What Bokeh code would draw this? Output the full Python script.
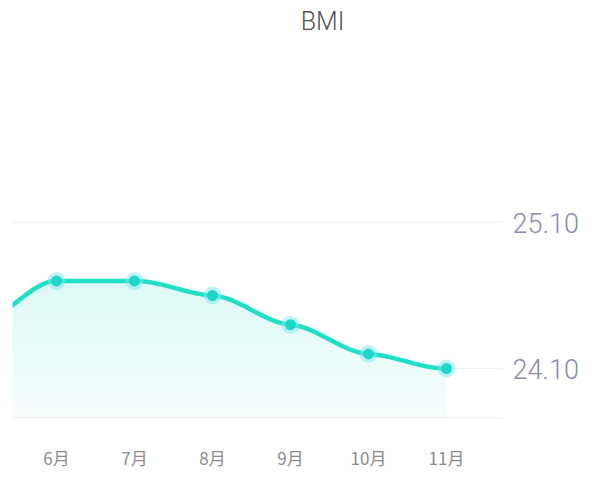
import numpy as np
from bokeh.plotting import figure
from bokeh.models import Range1d, FixedTicker, LinearAxis, Label, ColumnDataSource, NumeralTickFormatter
from bokeh.embed import file_html
from bokeh.resources import INLINE

# ---- data ----
months = ["5月", "6月", "7月", "8月", "9月", "10月", "11月"]
bmi = [24.42, 24.70, 24.70, 24.60, 24.40, 24.20, 24.10]
y_ticks = [24.10, 25.10]
title_text = "BMI"

# ---- layout constants ----
W, H = 600, 494
FRAME_L, FRAME_R, FRAME_T, FRAME_B = 12, 503, 0, 417
X0_PX, DX_PX = 56, 78        # pixel of 6月 and spacing
Y_HI_PX, Y_LO_PX = 222, 368  # pixels of ticks 25.10 and 24.10
LIGHT_FONT = "Roboto Light, Roboto"

xs = np.arange(len(months), dtype=float)
ppu_x = DX_PX
x_start = 1 - (X0_PX - FRAME_L) / ppu_x
x_end = x_start + (FRAME_R - FRAME_L) / ppu_x
ppu_y = (Y_LO_PX - Y_HI_PX) / (y_ticks[1] - y_ticks[0])
y_top = y_ticks[1] + (Y_HI_PX - FRAME_T) / ppu_y
y_bot = y_ticks[1] - (FRAME_B - Y_HI_PX) / ppu_y

def px2x(px):
    return x_start + (px - FRAME_L) / ppu_x

def px2y(py):
    return y_ticks[1] + (Y_HI_PX - py) / ppu_y

# ---- smooth curve: cubic Bezier with damped tangents ----
def smooth_curve(x, y, damp=0.2, n=40):
    x = np.asarray(x, float); y = np.asarray(y, float)
    m = len(x)
    t = np.zeros(m)
    for i in range(1, m - 1):
        t[i] = damp * (y[i + 1] - y[i - 1]) / (x[i + 1] - x[i - 1])
        if (y[i + 1] - y[i]) * (y[i] - y[i - 1]) <= 0:
            t[i] = 0.0
    cx, cy = [], []
    for i in range(m - 1):
        dx = (x[i + 1] - x[i]) / 3
        P0 = (x[i], y[i]); P1 = (x[i] + dx, y[i] + dx * t[i])
        P2 = (x[i + 1] - dx, y[i + 1] - dx * t[i + 1]); P3 = (x[i + 1], y[i + 1])
        u = np.linspace(0, 1, n, endpoint=(i == m - 2))
        b0 = (1 - u) ** 3; b1 = 3 * u * (1 - u) ** 2; b2 = 3 * u ** 2 * (1 - u); b3 = u ** 3
        cx.extend(b0 * P0[0] + b1 * P1[0] + b2 * P2[0] + b3 * P3[0])
        cy.extend(b0 * P0[1] + b1 * P1[1] + b2 * P2[1] + b3 * P3[1])
    return np.array(cx), np.array(cy)

cx, cy = smooth_curve(xs, bmi)

p = figure(width=W, height=H, output_backend="svg", toolbar_location=None,
           x_range=Range1d(x_start, x_end), y_range=Range1d(y_bot, y_top),
           min_border_left=FRAME_L, min_border_right=W - FRAME_R,
           min_border_top=FRAME_T, min_border_bottom=H - FRAME_B,
           y_axis_location=None)
p.outline_line_color = None
p.background_fill_color = "white"
p.border_fill_color = "white"

# gradient fill as stacked bands
n_bands = 40
top_c = np.array([218, 249, 245]); bot_c = np.array([247, 254, 254])
curve_top = float(np.max(cy))
edges = np.linspace(y_bot, curve_top, n_bands + 1)
for k in range(n_bands):
    a, b = edges[k], edges[k + 1]
    f = (k + 0.5) / n_bands
    c = bot_c + (top_c - bot_c) * f
    col = "#%02x%02x%02x" % tuple(int(round(v)) for v in c)
    y2 = np.clip(cy, a, b)
    p.varea(x=cx, y1=np.full_like(cx, a), y2=y2, fill_color=col, fill_alpha=1.0)

# grid
p.xgrid.visible = False
p.ygrid.ticker = FixedTicker(ticks=y_ticks)
p.ygrid.grid_line_color = "#efeff2"
p.ygrid.grid_line_width = 1

# line
p.line(cx, cy, line_color="#1fe0c6", line_width=4.5)

# markers
src = ColumnDataSource(dict(x=xs[1:], y=bmi[1:]))
p.scatter("x", "y", source=src, size=18, fill_color="#7fe6f0", fill_alpha=0.5, line_color=None)
p.scatter("x", "y", source=src, size=11, fill_color="#1dd8c6", line_color=None)

# x axis
xa = p.xaxis[0]
xa.ticker = FixedTicker(ticks=list(xs[1:]))
xa.major_label_overrides = {float(i): months[i] for i in range(1, len(months))}
xa.major_label_overrides.update({int(i): months[i] for i in range(1, len(months))})
xa.axis_line_color = "#efeff2"
xa.major_tick_line_color = None
xa.minor_tick_line_color = None
xa.major_label_standoff = 21
xa.major_label_text_font = "Noto Sans CJK SC"
xa.major_label_text_font_size = "17px"
xa.major_label_text_color = "#8c8c8c"

# right y axis
ya = LinearAxis(ticker=FixedTicker(ticks=y_ticks))
ya.formatter = NumeralTickFormatter(format="0.00")
ya.axis_line_color = None
ya.major_tick_line_color = None
ya.minor_tick_line_color = None
ya.major_label_standoff = 3
ya.major_label_text_font = LIGHT_FONT
ya.major_label_text_font_size = "27px"
ya.major_label_text_color = "#8e8aab"
p.add_layout(ya, "right")

# title
p.add_layout(Label(x=px2x(322), y=px2y(21), text=title_text, text_align="center",
                   text_baseline="middle", text_font=LIGHT_FONT, text_font_size="25px",
                   text_color="#555555"))

open("out.html", "w").write(file_html(p, INLINE))
